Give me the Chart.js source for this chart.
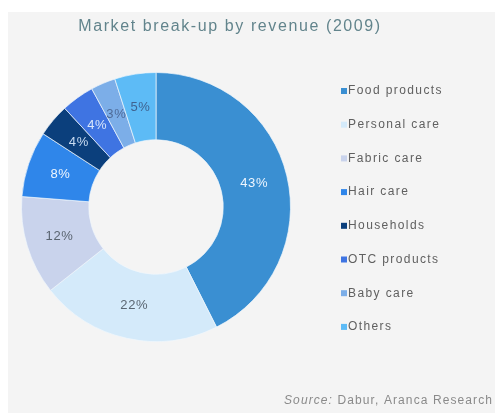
<!DOCTYPE html>
<html>
<head>
<meta charset="utf-8">
<script src="https://cdn.jsdelivr.net/npm/chart.js@4"></script>
<style>
  html, body { margin: 0; padding: 0; background: #ffffff; }
  #wrap { position: relative; width: 495px; height: 413px; }
</style>
</head>
<body>
<div id="wrap"><canvas id="marketChart" width="495" height="413"></canvas></div>
<script>
const categories = ['Food products', 'Personal care', 'Fabric care', 'Hair care',
                    'Households', 'OTC products', 'Baby care', 'Others'];
const revenueShare = [43, 22, 12, 8, 4, 4, 3, 5];
const sliceColors = ['#3a8fd2', '#d4eafa', '#c9d3ec', '#2f86ea',
                     '#0b3f7c', '#3f74e2', '#7caee8', '#5dbbf6'];
const labelColors = ['#eef6ff', '#5a6672', '#5a6470', '#eef6ff',
                     '#c9dcf2', '#d8e6fb', '#4e6a98', '#3f6390'];

const titleText = 'Market break-up by revenue (2009)';
const sourceText = 'Dabur, Aranca Research';

// panel background, title, source line
const backdrop = {
  id: 'backdrop',
  beforeDraw(chart) {
    const c = chart.ctx;
    c.save();
    c.fillStyle = '#ffffff';
    c.fillRect(0, 0, chart.width, chart.height);
    c.fillStyle = '#f4f4f4';
    c.fillRect(8, 12, chart.width - 8, chart.height - 12);
    c.restore();
  },
  afterDraw(chart) {
    const c = chart.ctx;
    c.save();
    c.textBaseline = 'middle';
    c.fillStyle = '#62848c';
    c.font = '16px "Liberation Sans", Arial, sans-serif';
    c.letterSpacing = '1.6px';
    c.textAlign = 'center';
    c.fillText(titleText, 230, 27);

    c.fillStyle = '#8a8a8a';
    c.font = 'italic 12px "Liberation Sans", Arial, sans-serif';
    c.letterSpacing = '1.1px';
    c.textAlign = 'left';
    c.fillText('Source:', 284, 401);
    const w = c.measureText('Source: ').width;
    c.font = '12px "Liberation Sans", Arial, sans-serif';
    c.fillText(sourceText, 284 + w, 401);
    c.restore();
  }
};

// percentage labels on each slice
const sliceLabels = {
  id: 'sliceLabels',
  afterDatasetsDraw(chart) {
    const c = chart.ctx;
    const meta = chart.getDatasetMeta(0);
    c.save();
    c.font = '13px "Liberation Sans", Arial, sans-serif';
    c.letterSpacing = '0.6px';
    c.textAlign = 'center';
    c.textBaseline = 'middle';
    meta.data.forEach((arc, i) => {
      const p = arc.tooltipPosition();
      c.fillStyle = labelColors[i];
      c.fillText(revenueShare[i] + '%', p.x, p.y);
    });
    c.restore();
  }
};

// legend column on the right
const sideLegend = {
  id: 'sideLegend',
  afterDraw(chart) {
    const c = chart.ctx;
    c.save();
    c.font = '12px "Liberation Sans", Arial, sans-serif';
    c.letterSpacing = '1.4px';
    c.textBaseline = 'middle';
    c.textAlign = 'left';
    categories.forEach((name, i) => {
      const y = 91 + i * 33.7;
      c.fillStyle = sliceColors[i];
      c.fillRect(341, y - 3, 6, 6);
      c.fillStyle = '#606060';
      c.fillText(name, 348, y);
    });
    c.restore();
  }
};

const ctx = document.getElementById('marketChart').getContext('2d');
const marketChart = new Chart(ctx, {
  type: 'doughnut',
  data: {
    labels: categories,
    datasets: [{
      data: revenueShare,
      backgroundColor: sliceColors,
      borderColor: 'rgba(240,246,252,0.7)',
      borderWidth: 1
    }]
  },
  options: {
    responsive: false,
    animation: false,
    cutout: '50%',
    layout: { padding: { left: 21, top: 72, right: 204, bottom: 71 } },
    plugins: {
      legend: { display: false },
      tooltip: { enabled: false }
    }
  },
  plugins: [backdrop, sliceLabels, sideLegend]
});
</script>
</body>
</html>
